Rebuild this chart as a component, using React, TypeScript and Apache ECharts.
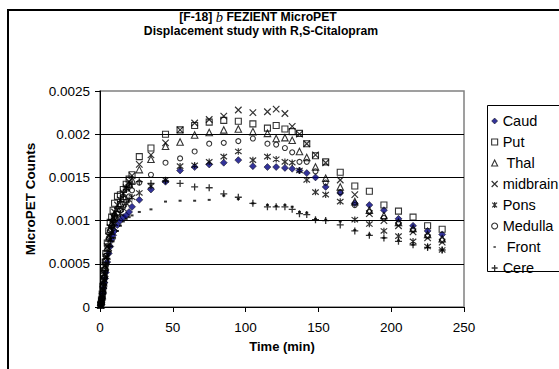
import React, { useEffect, useRef } from "react";
import * as echarts from "echarts";

const FONT = "'Liberation Sans', Arial, Helvetica, sans-serif";

// Frame times (min)
const times = [0.5, 1, 1.5, 2, 2.5, 3, 3.5, 4, 5, 6, 7, 8, 9, 10, 12, 14, 16, 18, 20, 22, 27, 35, 45, 55, 65, 75, 85, 95, 105, 115, 121, 127, 132, 137, 142, 148, 155, 165, 175, 185, 195, 205, 215, 225, 235];

const caud = [0.00002, 0.00005, 0.0001, 0.00016, 0.00022, 0.00028, 0.00033, 0.0004, 0.00052, 0.00062, 0.0007, 0.00078, 0.00083, 0.00088, 0.00095, 0.001, 0.00104, 0.00106, 0.0011, 0.00116, 0.00124, 0.00136, 0.00145, 0.00158, 0.00162, 0.00165, 0.00167, 0.0017, 0.00163, 0.00162, 0.00162, 0.00161, 0.0016, 0.00158, 0.00155, 0.0015, 0.00139, 0.00132, 0.0012, 0.00118, 0.00112, 0.00102, 0.00094, 0.00088, 0.00084];
const put = [0.00003, 0.00008, 0.00015, 0.00024, 0.00033, 0.00042, 0.00052, 0.00062, 0.00074, 0.00088, 0.00098, 0.00104, 0.00112, 0.0012, 0.00128, 0.0013, 0.00136, 0.00142, 0.00148, 0.00153, 0.00174, 0.00184, 0.002, 0.00205, 0.0021, 0.00214, 0.00216, 0.00215, 0.00212, 0.00207, 0.0021, 0.00206, 0.00203, 0.00201, 0.00189, 0.00175, 0.00168, 0.00156, 0.0014, 0.00134, 0.00118, 0.00111, 0.00104, 0.00094, 0.0009];
const thal = [0.00002, 0.00007, 0.00013, 0.0002, 0.00028, 0.00037, 0.00046, 0.00055, 0.00068, 0.0008, 0.0009, 0.00096, 0.00102, 0.00108, 0.00114, 0.0012, 0.00128, 0.00138, 0.00142, 0.00147, 0.00159, 0.00171, 0.00186, 0.00191, 0.00199, 0.00202, 0.00205, 0.00206, 0.00203, 0.00201, 0.00195, 0.00196, 0.00193, 0.0018, 0.00173, 0.00162, 0.00149, 0.00139, 0.00122, 0.00112, 0.00106, 0.00098, 0.00091, 0.00084, 0.00079];
const midbrain = [0.00002, 0.00006, 0.00012, 0.0002, 0.00029, 0.00038, 0.00048, 0.00058, 0.0007, 0.00082, 0.00092, 0.00098, 0.00104, 0.0011, 0.00118, 0.00124, 0.00132, 0.00138, 0.00145, 0.00152, 0.00165, 0.00176, 0.0019, 0.00205, 0.00213, 0.00217, 0.00221, 0.00228, 0.00225, 0.00226, 0.00229, 0.00224, 0.00209, 0.002, 0.00189, 0.00176, 0.00167, 0.00147, 0.0013, 0.00108, 0.001, 0.00094, 0.00087, 0.0008, 0.00075];
const pons = [0.00002, 0.00005, 0.0001, 0.00017, 0.00024, 0.00031, 0.00038, 0.00046, 0.00058, 0.00068, 0.00078, 0.00086, 0.00092, 0.00097, 0.00103, 0.00108, 0.00114, 0.0012, 0.00124, 0.00127, 0.00132, 0.0014, 0.00147, 0.00163, 0.00164, 0.00168, 0.00174, 0.0018, 0.0017, 0.00174, 0.00171, 0.00168, 0.00167, 0.00158, 0.00147, 0.00133, 0.0013, 0.00122, 0.00101, 0.00096, 0.00088, 0.00082, 0.00076, 0.0007, 0.00066];
const medulla = [0.00003, 0.00008, 0.00015, 0.00024, 0.00034, 0.00044, 0.00054, 0.00059, 0.0007, 0.0008, 0.00088, 0.00094, 0.001, 0.00104, 0.00108, 0.00112, 0.00116, 0.00122, 0.00128, 0.00135, 0.00144, 0.00153, 0.00167, 0.00172, 0.0018, 0.00189, 0.0019, 0.00192, 0.00195, 0.00189, 0.00188, 0.00184, 0.00179, 0.00168, 0.00168, 0.00157, 0.00144, 0.00133, 0.00118, 0.0011, 0.00103, 0.00097, 0.00089, 0.00082, 0.00077];
const front = [0.00001, 0.00004, 0.00008, 0.00013, 0.00019, 0.00025, 0.00031, 0.00037, 0.00047, 0.00056, 0.00064, 0.0007, 0.00076, 0.0008, 0.00088, 0.00094, 0.00099, 0.00102, 0.00104, 0.00106, 0.0011, 0.00113, 0.00122, 0.00123, 0.00123, 0.00124, 0.00129, 0.00125, 0.0012, 0.00118, 0.00117, 0.00118, 0.00116, 0.0011, 0.00109, 0.00102, 0.00101, 0.00099, 0.00089, 0.00084, 0.0008, 0.00077, 0.00072, 0.00069, 0.00066];
const cere = [0.00002, 0.00006, 0.00011, 0.00018, 0.00026, 0.00034, 0.00042, 0.0005, 0.00062, 0.00073, 0.00084, 0.00092, 0.001, 0.00106, 0.00114, 0.00122, 0.00128, 0.00136, 0.0014, 0.00142, 0.00145, 0.00143, 0.00146, 0.00143, 0.00139, 0.00138, 0.00131, 0.00127, 0.0012, 0.00116, 0.00116, 0.00116, 0.00113, 0.00108, 0.00107, 0.00101, 0.001, 0.00095, 0.00088, 0.00083, 0.0008, 0.00076, 0.00072, 0.00069, 0.00066];

const seriesNames = ["Caud", "Put", " Thal", "midbrain", "Pons", "Medulla", " Front", "Cere"];
const seriesValues = [caud, put, thal, midbrain, pons, medulla, front, cere];

const xTicks = { min: 0, max: 250, interval: 50 };
const yTicks = { min: 0, max: 0.0025, interval: 0.0005 };

const SYM_X = "path://M0,0L10,10M10,0L0,10";
const SYM_STAR = "path://M1,1L9,9M9,1L1,9M5,0L5,10";
const SYM_PLUS = "path://M5,0L5,10M0,5L10,5";
const SYM_DOT_LEGEND = "path://M0,0L0.01,0M3,3.8h4v2.6h-4zM10,10L10.01,10";

const CLEAR = "rgba(0,0,0,0)";

const styles: any[] = [
  { symbol: "diamond", size: 7, item: { color: "#000080", borderColor: "#000", borderWidth: 0.6 }, icon: "diamond" },
  { symbol: "rect", size: 6, item: { color: CLEAR, borderColor: "#000", borderWidth: 1.1 }, icon: "rect" },
  { symbol: "triangle", size: 6.5, item: { color: CLEAR, borderColor: "#000", borderWidth: 1.1 }, icon: "triangle" },
  { symbol: SYM_X, size: 6.5, item: { color: CLEAR, borderColor: "#000", borderWidth: 1.2 }, icon: SYM_X },
  { symbol: SYM_STAR, size: 6.5, item: { color: CLEAR, borderColor: "#000", borderWidth: 1.2 }, icon: SYM_STAR },
  { symbol: "circle", size: 5, item: { color: CLEAR, borderColor: "#000", borderWidth: 1.1 }, icon: "circle" },
  { symbol: "rect", size: [3, 2], item: { color: "#000", borderWidth: 0 }, icon: SYM_DOT_LEGEND },
  { symbol: SYM_PLUS, size: 7, item: { color: CLEAR, borderColor: "#000", borderWidth: 1.3 }, icon: SYM_PLUS },
];

export default function App() {
  const ref = useRef<HTMLDivElement>(null);
  useEffect(() => {
    document.body.style.margin = "0";
    const chart = echarts.init(ref.current!, null, { renderer: "svg" });
    const series = seriesNames.map((name, k) => ({
      type: "scatter",
      name,
      data: times.map((t, i) => [t, seriesValues[k][i]]),
      symbol: styles[k].symbol,
      symbolSize: styles[k].size,
      itemStyle: styles[k].item,
      emphasis: { disabled: true },
      silent: true,
    }));
    const option: any = {
      animation: false,
      backgroundColor: "#fff",
      grid: {
        left: 100,
        top: 91,
        right: 95,
        bottom: 62,
        show: true,
        borderColor: "#808080",
        borderWidth: 1.5,
        backgroundColor: "transparent",
      },
      xAxis: {
        type: "value",
        ...xTicks,
        axisLine: { show: true, lineStyle: { color: "#000", width: 1 } },
        axisTick: { show: true, inside: false, length: 5, lineStyle: { color: "#000" } },
        axisLabel: { color: "#000", fontFamily: FONT, fontSize: 13.5, margin: 13 },
        splitLine: { show: false },
        name: "Time (min)",
        nameLocation: "middle",
        nameGap: 33,
        nameTextStyle: { color: "#000", fontFamily: FONT, fontWeight: "bold", fontSize: 13 },
      },
      yAxis: {
        type: "value",
        ...yTicks,
        axisLine: { show: true, lineStyle: { color: "#000", width: 1 } },
        axisTick: { show: true, inside: false, length: 5, lineStyle: { color: "#000" } },
        axisLabel: {
          color: "#000",
          fontFamily: FONT,
          fontSize: 13.5,
          margin: 10,
          formatter: (v: number) => String(+v.toFixed(4)),
        },
        splitLine: { show: true, showMinLine: false, showMaxLine: false, lineStyle: { color: "#000", width: 1 } },
        name: "MicroPET Counts",
        nameLocation: "middle",
        nameGap: 60,
        nameRotate: 90,
        nameTextStyle: { color: "#000", fontFamily: FONT, fontWeight: "bold", fontSize: 13.5 },
      },
      legend: {
        orient: "vertical",
        left: 486,
        top: 108,
        itemWidth: 6,
        itemHeight: 6,
        itemGap: 5,
        selectedMode: false,
        textStyle: { color: "#000", fontFamily: FONT, fontSize: 14.5, lineHeight: 16 },
        data: seriesNames.map((name, k) => ({ name, icon: styles[k].icon, itemStyle: styles[k].item })),
      },
      graphic: [
        {
          type: "rect",
          silent: true,
          z: 100,
          shape: { x: 8, y: 10, width: 700, height: 500 },
          style: { fill: "none", stroke: "#000", lineWidth: 2 },
        },
        {
          type: "rect",
          silent: true,
          shape: { x: 487.5, y: 105.5, width: 100, height: 166 },
          style: { fill: "none", stroke: "#000", lineWidth: 1 },
        },
        {
          type: "text",
          silent: true,
          x: 258,
          y: 17,
          style: {
            text: "{a|[F-18] }{b|b}{a| FEZIENT MicroPET}",
            align: "center",
            verticalAlign: "middle",
            rich: {
              a: { fontFamily: FONT, fontWeight: "bold", fontSize: 12.2, fill: "#000" },
              b: { fontFamily: "'Liberation Serif', 'Times New Roman', serif", fontStyle: "italic", fontSize: 14.5, fill: "#000" },
            },
          },
        },
        {
          type: "text",
          silent: true,
          x: 261,
          y: 31,
          style: {
            text: "Displacement study with R,S-Citalopram",
            align: "center",
            verticalAlign: "middle",
            fontFamily: FONT,
            fontWeight: "bold",
            fontSize: 12.2,
            fill: "#000",
          },
        },
      ],
      series,
    };
    chart.setOption(option);
    return () => chart.dispose();
  }, []);
  return <div ref={ref} style={{ width: 559, height: 369 }} />;
}
